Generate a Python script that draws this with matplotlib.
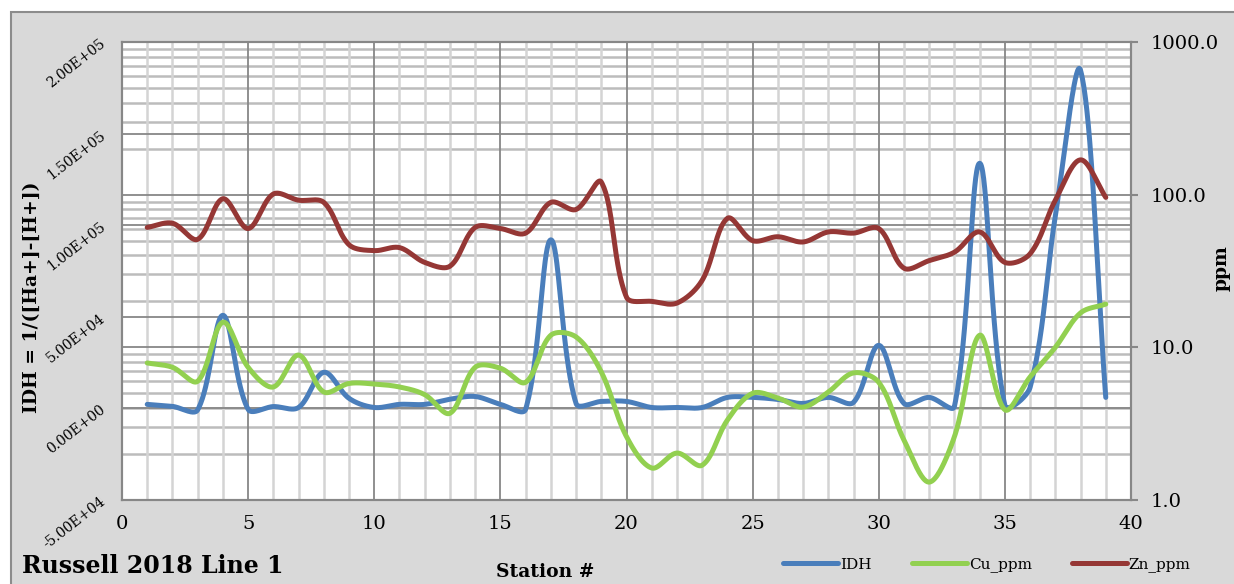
import numpy as np
import matplotlib.pyplot as plt
from matplotlib.patches import Rectangle
from matplotlib.lines import Line2D
from matplotlib.transforms import blended_transform_factory
from matplotlib.ticker import MultipleLocator, FixedLocator, NullFormatter

plt.rcParams['font.family'] = ['DejaVu Serif']

# station numbers and readings
station = list(range(1, 40))
idh = [2200, 1100, -800, 50800, -500, 1000, 500, 19700, 5500, 500,
       2200, 2200, 5000, 6500, 2200, -500, 92000, 2700, 3800, 3800,
       500, 500, 500, 6000, 6000, 4900, 2700, 6000, 3300, 34400,
       2700, 6000, 1100, 133800, 1600, 11500, 105000, 184500, 6000]
cu_ppm = [7.9, 7.4, 6.0, 14.6, 7.4, 5.5, 8.9, 5.1, 5.8, 5.75,
          5.5, 4.9, 3.7, 7.4, 7.3, 5.9, 12.0, 11.7, 6.9, 2.6,
          1.62, 2.03, 1.69, 3.34, 5.0, 4.66, 4.06, 5.1, 6.8, 5.9,
          2.47, 1.31, 2.6, 12.0, 3.9, 6.4, 10.0, 16.8, 19.2]
zn_ppm = [61, 65, 51, 94, 60, 101, 92, 89, 47, 43,
          45, 36, 34, 61, 60, 56, 89, 80, 121, 21.3,
          20.0, 19.5, 27.5, 70, 50, 53, 49, 57, 56, 60,
          33, 37, 42, 57, 36, 41, 92, 169, 96]

left_ticks = [-5.0e4, 0.0, 5.0e4, 1.0e5, 1.5e5, 2.0e5]
right_ticks = [1, 10, 100, 1000]

BLUE = '#4a7ebb'
GREEN = '#92d050'
RED = '#953735'
DARK = '#878787'
LIGHT = '#d4d4d4'
MID = '#bcbcbc'

# plot box in pixels
X0, X1, Y0, Y1 = 122, 1131, 42, 500


def smooth(x, y, kx, ky, n=40):
    # smoothed line like a spreadsheet chart: Bezier segments whose control
    # points are scaled by neighbouring segment lengths (in pixel space)
    P = np.column_stack([np.asarray(x, float) * kx, np.asarray(y, float) * ky])
    P = np.vstack([P[0], P, P[-1]])
    t = np.linspace(0, 1, n)[:, None]
    out = []
    for i in range(1, len(P) - 2):
        a, b, c, d = P[i - 1], P[i], P[i + 1], P[i + 2]
        d1 = np.hypot(*(b - a))
        d2 = np.hypot(*(c - b))
        d3 = np.hypot(*(d - c))
        f1 = d2 / (d1 + d2) if d1 + d2 > 0 else 0
        f2 = d2 / (d2 + d3) if d2 + d3 > 0 else 0
        c1 = b + (c - a) * f1 / 3
        c2 = c - (d - b) * f2 / 3
        pts = (1 - t) ** 3 * b + 3 * (1 - t) ** 2 * t * c1 + 3 * (1 - t) * t ** 2 * c2 + t ** 3 * c
        out.append(pts)
    out = np.vstack(out)
    return out[:, 0] / kx, out[:, 1] / ky


fig = plt.figure(figsize=(12.34, 5.84), dpi=100)
fig.patch.set_facecolor('white')
fig.patches.append(Rectangle((11 / 1234, -0.01), 1.02, 1 - 12 / 584 + 0.01,
                             transform=fig.transFigure, facecolor='#d9d9d9',
                             edgecolor='#8c8c8c', linewidth=1.5, zorder=-10))

ax = fig.add_axes([X0 / 1234, 1 - Y1 / 584, (X1 - X0) / 1234, (Y1 - Y0) / 584])
ax2 = ax.twinx()

ax.set_xlim(0, 40)
ax.set_ylim(left_ticks[0], left_ticks[-1])
ax2.set_yscale('log')
ax2.set_ylim(right_ticks[0], right_ticks[-1])

# grids
ax.xaxis.set_major_locator(MultipleLocator(5))
ax.xaxis.set_minor_locator(MultipleLocator(1))
ax.yaxis.set_major_locator(FixedLocator(left_ticks))
ax.grid(True, which='major', axis='both', color=DARK, linewidth=1.3, zorder=0)
ax.grid(True, which='minor', axis='x', color=LIGHT, linewidth=1.8, zorder=0)
ax.set_axisbelow(True)
ax2.grid(False)

# log grid of the right axis drawn on the primary axes (beneath all lines)
bt = blended_transform_factory(ax.transAxes, ax2.transData)
minor_locs = [m * 10 ** d for d in range(0, 3) for m in range(2, 10)]
ax.hlines(minor_locs, 0, 1, transform=bt, colors=MID, linewidth=1.8, zorder=0.5)
ax.hlines(right_ticks[1:-1], 0, 1, transform=bt, colors=DARK, linewidth=1.3, zorder=0.6)

# pixel scale factors for smoothing
kx = (X1 - X0) / 40
k_lin = (Y1 - Y0) / (left_ticks[-1] - left_ticks[0])
k_log = (Y1 - Y0) / 3

sx, sy = smooth(station, idh, kx, k_lin)
ax.plot(sx, sy, color=BLUE, linewidth=3.6, solid_capstyle='round', zorder=3)

cx, cy = smooth(station, np.log10(cu_ppm), kx, k_log)
ax2.plot(cx, 10 ** cy, color=GREEN, linewidth=3.6, solid_capstyle='round', zorder=3)
zx, zy = smooth(station, np.log10(zn_ppm), kx, k_log)
ax2.plot(zx, 10 ** zy, color=RED, linewidth=3.6, solid_capstyle='round', zorder=4)

for a in (ax, ax2):
    for s in a.spines.values():
        s.set_color(DARK)
        s.set_linewidth(1.5)

# left tick labels, rotated
ax.tick_params(axis='y', length=0, pad=13)
ax.set_yticks(left_ticks)
ax.set_yticklabels(['%.2E' % v for v in left_ticks], rotation=38, fontsize=10,
                   rotation_mode='anchor', ha='right', va='center')
ax.tick_params(axis='x', which='both', length=0, pad=11, labelsize=14)

ax2.yaxis.set_major_locator(FixedLocator(right_ticks))
ax2.yaxis.set_minor_formatter(NullFormatter())
ax2.set_yticklabels(['%.1f' % v for v in right_ticks], fontsize=14)
ax2.tick_params(axis='y', which='major', length=5, width=1.5, color=DARK, pad=9)
ax2.tick_params(axis='y', which='minor', length=0)

fig.text(32 / 1234, 1 - 297 / 584, 'IDH = 1/([Ha+]-[H+])', rotation=90,
         ha='center', va='center', fontsize=13.5, fontweight='bold')
fig.text(1222 / 1234, 1 - 268 / 584, 'ppm', rotation=90,
         ha='center', va='center', fontsize=13.5, fontweight='bold')
fig.text(545 / 1234, 1 - 572 / 584, 'Station #', ha='center', va='center',
         fontsize=13.5, fontweight='bold')
fig.text(22 / 1234, 1 - 566 / 584, 'Russell 2018 Line 1', ha='left', va='center',
         fontsize=17, fontweight='bold')

handles = [Line2D([], [], color=c, linewidth=3.6, solid_capstyle='round')
           for c in (BLUE, GREEN, RED)]
fig.legend(handles, ['IDH', 'Cu_ppm', 'Zn_ppm'], loc='center left',
           bbox_to_anchor=(783 / 1234, 1 - 565 / 584), ncol=3, frameon=False,
           fontsize=11, handlelength=3.6, handletextpad=0.15, columnspacing=2.6,
           borderpad=0, borderaxespad=0)

fig.savefig('out.png', dpi=100)
